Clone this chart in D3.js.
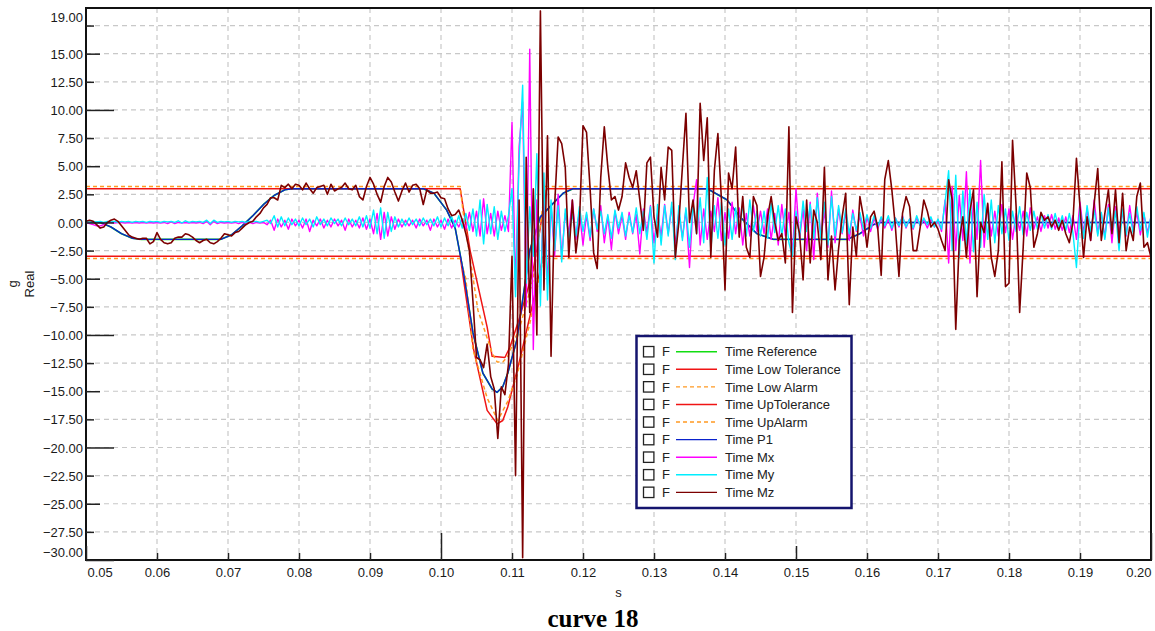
<!DOCTYPE html>
<html><head><meta charset="utf-8">
<script src="https://cdn.jsdelivr.net/npm/d3@7"></script>
<style>body{margin:0;background:#fff}svg{display:block}</style>
</head><body><svg id="c" width="1155" height="631"></svg>
<script>
// ---------- DATA ----------
const xTicks = [0.05,0.06,0.07,0.08,0.09,0.10,0.11,0.12,0.13,0.14,0.15,0.16,0.17,0.18,0.19,0.20];
const yTicks = [-30,-27.5,-25,-22.5,-20,-17.5,-15,-12.5,-10,-7.5,-5,-2.5,0,2.5,5,7.5,10,12.5,15,17.5];
const yTopLabel = "19.00";
const xLabel = "s";
const yLabelLines = ["g","Real"];
const title = "curve 18";
const seriesNames = ["Time Reference","Time Low Tolerance","Time Low Alarm","Time UpTolerance","Time UpAlarm","Time P1","Time Mx","Time My","Time Mz"];

// reference / P1 curve (time s, value g)
const refT = [0.05,0.0520,0.0535,0.0550,0.0565,0.0578,0.0690,0.0705,0.0720,0.0735,0.0750,0.0765,0.0780,0.0790,0.0975,0.0990,0.1008,0.1020,0.1031,0.1045,0.1059,0.1072,0.1079,0.1087,0.1094,0.1107,0.1125,0.1140,0.1158,0.1172,0.1186,0.1375,0.1403,0.1421,0.1445,0.1468,0.1572,0.1590,0.1609,0.1618,0.2];
const refV = [0,0,-0.4,-1.0,-1.4,-1.5,-1.5,-1.1,-0.3,0.6,1.6,2.4,2.9,3.0,3.0,2.6,1.1,-0.5,-4.2,-9.8,-13.4,-14.8,-15.1,-14.6,-13.4,-10.4,-2.5,0.5,1.7,2.6,3.0,3.0,2.0,0.5,-1.0,-1.5,-1.5,-1.0,-0.2,0,0];

const upTolT = [0.05,0.1027,0.1041,0.1065,0.1072,0.1090,0.1097,0.1111,0.1130,0.1149,0.2];
const upTolV = [3,3,-2.5,-9.3,-11.9,-12.0,-11.1,-8.4,-4.2,3,3];
const lowTolT = [0.05,0.1027,0.1046,0.1065,0.1079,0.1087,0.1094,0.1111,0.1125,0.1144,0.2];
const lowTolV = [-3,-3,-11.3,-16.7,-17.9,-17.6,-16.4,-12.2,-8.4,-3,-3];
const upAlarmT = [0.05,0.1027,0.1031,0.1052,0.1072,0.1079,0.1087,0.1094,0.1111,0.1130,0.1147,0.2];
const upAlarmV = [3.2,3.2,1.0,-7.8,-11.6,-12.4,-12.4,-11.9,-9.3,-5.0,3.2,3.2];
const lowAlarmT = [0.05,0.1027,0.1035,0.1045,0.1065,0.1080,0.1094,0.1107,0.1125,0.1144,0.2];
const lowAlarmV = [-3.2,-3.2,-5.0,-11.3,-15.6,-17.6,-15.9,-13.6,-9.0,-3.2,-3.2];

// measured channels, sampled every 0.5 ms from 0.05 s
const sampleStart = 0.05, sampleStep = 0.0005;
const mzV = [
0.1,0.2,0.1,-0.2,-0.5,-0.4,0.0,0.2,0.3,0.1,
-0.3,-0.7,-1.1,-1.3,-1.4,-1.5,-1.4,-1.4,-1.9,-1.7,
-0.9,-1.5,-1.8,-1.9,-1.8,-1.4,-1.3,-1.3,-1.0,-1.1,
-1.3,-1.6,-1.8,-1.6,-1.5,-1.8,-1.9,-1.7,-1.4,-1.0,
-1.1,-1.2,-0.9,-0.8,-0.5,-0.2,0.0,0.1,0.5,0.8,
1.3,1.6,2.2,2.2,2.0,3.3,3.1,3.4,3.0,3.4,
3.3,2.9,3.5,3.0,2.6,3.1,3.2,3.3,2.5,3.4,
2.8,3.0,3.1,3.5,3.0,2.9,3.3,2.3,2.0,3.2,
4.0,3.4,2.5,1.8,3.2,4.0,3.6,2.7,1.9,2.8,
3.5,2.7,3.3,3.4,3.0,1.6,2.9,2.6,2.6,2.7,
2.2,2.1,1.2,0.6,0.7,1.1,0.2,-1.0,-2.5,-7.0,
-12.0,-12.2,-12.9,-10.8,-13.7,-14.8,-19.2,-14.6,-15.3,-12.6,
-3.0,-22.5,2.0,-29.8,5.8,-8.0,3.0,-10.0,18.8,-6.0,
7.7,-11.9,1.5,7.6,7.0,4.9,-3.1,2.0,-2.7,0.0,
8.6,8.0,3.0,-2.7,-4.1,4.0,8.5,4.9,2.0,2.3,
1.1,2.3,5.3,4.0,3.1,4.6,2.0,-0.7,5.3,5.8,
0.5,-1.3,4.9,2.0,6.7,6.4,-3.1,0.0,4.9,9.7,
0.0,2.0,-1.0,10.6,5.5,9.3,-3.1,4.6,7.9,2.0,
-6.0,4.4,3.0,6.7,-1.3,2.3,-2.2,-3.1,2.3,1.5,
-4.8,-3.1,0.5,2.3,0.0,-1.6,-1.0,-3.6,8.5,-8.0,
0.5,-1.0,-5.1,2.0,-3.6,1.1,0.0,-3.3,4.9,-5.1,
-1.2,-6.0,-2.3,0.5,2.6,-7.3,-0.4,-3.0,2.3,0.5,
-2.2,0.5,1.0,-0.4,-4.7,3.8,5.5,2.9,-0.4,-4.8,
0.8,2.3,1.4,-2.5,-2.5,-0.4,2.0,1.0,-0.4,0.0,
-0.6,-1.6,-2.5,3.8,2.0,-9.5,-1.6,0.5,-3.1,1.0,
2.9,-6.6,0.0,-0.9,1.7,-3.1,-4.8,-2.5,5.4,-5.7,
-5.4,7.3,1.4,-8.0,-2.2,4.4,3.1,-2.2,-1.0,0.9,
0.2,0.5,-0.4,0.2,-0.7,0.2,-1.0,-1.8,0.0,5.7,
1.4,-3.1,0.5,-1.6,1.7,4.8,-1.6,0.8,2.9,-1.0,
2.9,-1.8,2.6,-2.5,-0.4,-1.6,2.3,3.5,-2.2,-1.8,
-3.1];
const myV = [
0.1,0.0,0.1,0.05,0.1,0.0,0.1,0.05,0.1,0.0,
0.1,0.05,0.1,0.0,0.1,0.05,0.1,0.0,0.1,0.05,
0.1,0.0,0.1,0.05,0.1,0.0,0.15,-0.05,0.15,0.0,
0.1,0.05,0.1,0.0,0.2,-0.1,0.2,0.0,0.1,0.05,
0.1,0.0,0.1,0.05,0.1,0.0,0.1,0.05,0.1,0.0,
0.1,0.2,-0.1,0.6,-0.4,0.5,-0.3,0.4,-0.2,0.3,
-0.3,0.4,-0.2,0.3,-0.4,0.5,-0.2,0.3,-0.3,0.4,
-0.1,0.3,-0.3,0.4,-0.2,0.3,-0.3,0.5,-0.4,0.6,
-0.5,1.1,-1.0,1.3,-1.4,0.9,-0.8,0.5,-0.4,0.3,
-0.3,0.4,-0.2,0.3,-0.3,0.4,-0.2,0.3,-0.3,0.5,
-0.4,0.4,-0.3,0.5,-0.4,0.6,-0.5,0.8,-0.7,1.2,
-1.2,2.0,-1.9,1.6,-1.0,1.4,-1.5,1.0,-0.8,0.6,
3.0,-6.6,5.5,12.2,-5.4,1.4,-3.0,6.1,-7.4,4.4,
-6.9,2.0,-2.5,1.5,-3.5,1.2,-1.5,0.8,-1.2,1.4,
-0.8,0.9,-1.3,1.2,-0.6,1.0,-1.0,0.7,-1.4,1.1,
-0.5,0.9,-1.2,0.6,-0.9,1.3,-1.0,1.0,-1.5,1.4,
-3.6,1.6,-2.0,1.5,-1.2,1.8,-3.3,1.5,-1.6,1.3,
-2.2,1.6,-1.0,2.2,-1.8,4.0,-2.5,1.5,-1.4,1.8,
-2.0,1.2,-1.5,1.3,-1.0,1.6,-1.2,2.0,-0.8,1.0,
-1.2,1.0,-1.4,1.7,-0.9,1.5,-1.2,1.2,-1.8,-3.0,
1.0,-1.3,1.9,-0.8,1.6,-1.4,2.2,-1.5,1.8,-2.0,
2.3,-1.2,1.5,-0.9,1.2,-1.0,0.8,-0.7,0.9,-0.6,
0.7,-0.5,0.6,-0.4,0.5,-0.3,0.6,-0.5,0.4,-0.3,
0.5,-0.4,0.3,-0.5,0.6,-0.3,0.4,-0.2,0.5,-0.4,
0.3,-0.6,1.8,4.6,-2.5,4.2,-3.1,2.8,-2.0,3.0,
-2.6,1.8,-2.2,2.5,-1.5,2.0,-1.8,1.5,-1.0,1.2,
-1.6,1.0,-0.8,1.4,-1.1,0.9,-0.7,1.0,-0.6,0.8,
-0.5,0.7,-0.6,0.8,-0.5,0.6,-0.7,0.8,-0.9,-4.0,
1.2,-1.4,1.5,-0.8,1.1,-1.2,0.9,-1.5,1.3,-0.9,
1.0,-2.5,1.2,-1.1,0.8,-1.0,1.4,-0.7,0.9,-1.3,
0.6];
const mxV = [
0.0,-0.1,-0.2,-0.3,-0.3,-0.2,0.0,0.0,-0.05,0.0,
0.0,-0.05,0.0,-0.05,0.0,-0.05,0.0,-0.05,0.0,-0.05,
0.0,-0.05,0.0,-0.1,0.05,-0.1,0.0,-0.05,0.0,-0.05,
0.0,-0.05,0.0,-0.1,0.1,-0.2,0.1,-0.1,0.0,-0.05,
0.0,-0.05,0.0,-0.1,0.0,-0.05,0.0,-0.1,0.0,-0.05,
0.0,-0.2,0.2,-0.7,0.3,-0.4,0.2,-0.6,0.3,-0.3,
0.2,-0.5,0.3,-0.8,0.2,-0.3,0.3,-0.5,0.2,-0.4,
0.3,-0.3,0.2,-0.7,0.3,-0.4,0.2,-0.5,0.4,-0.6,
0.3,-1.0,0.8,-1.5,0.9,-1.2,0.5,-0.6,0.3,-0.4,
0.2,-0.3,0.2,-0.5,0.3,-0.3,0.2,-0.7,0.3,-0.4,
0.2,-0.6,0.3,-0.5,0.2,-0.4,0.3,-0.6,0.9,-0.8,
1.0,-1.2,2.1,-1.0,0.8,-1.2,1.0,-0.7,0.6,-0.8,
8.9,-6.0,6.7,10.7,-7.5,15.4,-11.3,2.0,-6.3,3.1,
-5.5,1.5,-3.0,2.5,-3.1,0.8,-1.0,2.0,-1.5,1.0,
-2.0,0.7,-1.6,1.2,-0.8,1.5,-1.8,0.5,-2.4,1.0,
-1.0,0.6,-1.5,0.9,-1.0,0.7,-2.8,1.2,-0.9,1.5,
-1.8,0.8,-1.2,1.6,-1.0,1.4,-2.0,0.9,-1.3,1.1,
-4.0,1.5,3.8,-2.0,1.2,-1.5,1.0,-0.8,2.2,-1.6,
0.9,-1.4,1.8,-1.0,1.3,-2.0,0.8,-1.2,1.5,-0.8,
1.0,-1.0,1.2,-1.5,0.8,-2.0,1.6,-1.2,0.9,-2.8,
3.0,-1.5,1.2,-2.5,1.8,-3.3,2.6,-1.4,1.0,-2.2,
2.8,-1.8,1.2,-1.0,0.9,-1.6,1.1,-0.8,0.6,-1.2,
0.5,-0.8,0.4,-0.6,0.4,-0.5,0.3,-0.7,0.4,-0.4,
0.6,-0.5,0.3,-0.6,0.4,-0.3,0.2,-0.5,0.3,-0.4,
0.2,-0.8,2.0,-3.6,3.2,-2.5,2.4,-1.6,4.5,-3.6,
2.0,-1.5,5.5,-2.2,1.6,-1.2,1.0,-1.2,1.6,-0.9,
1.2,-1.5,0.8,-0.7,1.0,-1.2,1.3,-0.6,0.5,-0.8,
0.6,-0.5,0.7,-0.6,0.4,-0.7,0.5,-0.9,0.6,-1.5,
1.8,-0.9,1.2,-1.6,2.0,-1.0,0.8,-1.3,1.6,-1.8,
1.4,-0.9,1.0,-1.2,1.5,-0.8,0.9,-1.1,0.7,-0.9,
0.5];

// ---------- CHART ----------
const FONT = "'Liberation Sans', Arial, Helvetica, sans-serif";
const box = {l:86, r:1151, t:8, b:560};
const svg = d3.select("#c");
const x = d3.scaleLinear().domain([0.05, 0.2]).range([box.l, box.r]);
const y = d3.scaleLinear().domain([-30, 19.06]).range([box.b, box.t]);

// grid
const g = svg.append("g");
g.selectAll("line.gy").data(yTicks.filter(v => v > -30)).join("line")
  .attr("x1", box.l).attr("x2", box.r).attr("y1", d => y(d)).attr("y2", d => y(d))
  .attr("stroke", "#c8c8c8").attr("stroke-width", 1.2).attr("stroke-dasharray", "5,4");
g.selectAll("line.gx").data(xTicks.filter(v => v > 0.05 && v < 0.2)).join("line")
  .attr("x1", d => x(d)).attr("x2", d => x(d)).attr("y1", box.t).attr("y2", box.b)
  .attr("stroke", "#c8c8c8").attr("stroke-width", 1.2).attr("stroke-dasharray", "5,4");

// clip
svg.append("clipPath").attr("id", "clip").append("rect")
  .attr("x", box.l).attr("y", box.t).attr("width", box.r - box.l).attr("height", box.b - box.t);
const plot = svg.append("g").attr("clip-path", "url(#clip)");

const line = d3.line().x(d => x(d[0])).y(d => y(d[1]));
const pairs = (T, V) => T.map((t, i) => [t, V[i]]);
const sampled = V => V.map((v, i) => [sampleStart + i * sampleStep, v]);

const series = [
  {name: seriesNames[0], data: pairs(refT, refV), color: "#11dd11", w: 1.6},
  {name: seriesNames[1], data: pairs(lowTolT, lowTolV), color: "#f01414", w: 1.5},
  {name: seriesNames[2], data: pairs(lowAlarmT, lowAlarmV), color: "#ff9922", w: 1.5, dash: "4,3"},
  {name: seriesNames[3], data: pairs(upTolT, upTolV), color: "#f01414", w: 1.5},
  {name: seriesNames[4], data: pairs(upAlarmT, upAlarmV), color: "#ff9922", w: 1.5, dash: "4,3"},
  {name: seriesNames[5], data: pairs(refT, refV), color: "#0a22cc", w: 1.4},
  {name: seriesNames[6], data: sampled(mxV), color: "#ff00ff", w: 1.4},
  {name: seriesNames[7], data: sampled(myV), color: "#00eeff", w: 1.4},
  {name: seriesNames[8], data: sampled(mzV), color: "#7c0000", w: 1.6},
];
series.forEach(s => {
  plot.append("path").datum(s.data).attr("d", line)
    .attr("fill", "none").attr("stroke", s.color).attr("stroke-width", s.w)
    .attr("stroke-linejoin", "round")
    .attr("stroke-dasharray", s.dash || null);
});

// frame
svg.append("rect").attr("x", box.l).attr("y", box.t).attr("width", box.r - box.l).attr("height", box.b - box.t)
  .attr("fill", "none").attr("stroke", "#111").attr("stroke-width", 2);

// y axis
const yAxis = d3.axisLeft(y).tickValues(yTicks.concat([19.06])).tickSize(-7).tickPadding(3)
  .tickFormat(d => d === 17.5 ? "" : (d > 19 ? yTopLabel : d3.format(".2f")(d)));
const ya = svg.append("g").attr("transform", `translate(${box.l},0)`).call(yAxis);
ya.select(".domain").remove();
ya.selectAll(".tick line")
  .attr("x2", d => d > 19 ? 0 : (d % 10 === 0 ? 28 : (d % 5 === 0 ? 14 : 8)))
  .attr("stroke", "#222").attr("stroke-width", 1.5);
ya.selectAll(".tick text").attr("font-family", FONT).attr("font-size", 13).attr("fill", "#1a1a1a")
  .attr("dy", d => d > 19 ? "1.0em" : (d === -30 ? "-0.3em" : "0.35em"));

// x axis
const xAxis = d3.axisBottom(x).tickValues(xTicks).tickSize(-7).tickPadding(8).tickFormat(d3.format(".2f"));
const xa = svg.append("g").attr("transform", `translate(0,${box.b})`).call(xAxis);
xa.select(".domain").remove();
xa.selectAll(".tick line")
  .attr("y2", d => { const k = Math.round(d * 100); return k % 10 === 0 ? -27 : (k % 5 === 0 ? -14 : -7); })
  .attr("stroke", "#222").attr("stroke-width", 1.5);
xa.selectAll(".tick text").attr("font-family", FONT).attr("font-size", 13).attr("fill", "#1a1a1a")
  .attr("text-anchor", d => d <= 0.05 ? "start" : (d >= 0.2 ? "end" : "middle"))
  .attr("dx", d => d <= 0.05 ? 1 : 0);

// axis titles
svg.append("text").attr("x", (box.l + box.r) / 2).attr("y", 597).attr("text-anchor", "middle")
  .attr("font-family", FONT).attr("font-size", 13).attr("fill", "#1a1a1a").text(xLabel);
const yl = svg.append("text").attr("transform", `translate(0,284) rotate(-90)`)
  .attr("text-anchor", "middle").attr("font-family", FONT).attr("font-size", 13).attr("fill", "#1a1a1a");
yl.selectAll("tspan").data(yLabelLines).join("tspan")
  .attr("x", 0).attr("y", (d, i) => 17 + i * 17).text(d => d);

svg.append("text").attr("x", 593).attr("y", 627).attr("text-anchor", "middle")
  .attr("font-family", "'Liberation Serif', 'Times New Roman', serif").attr("font-weight", "bold")
  .attr("font-size", 25).attr("fill", "#000").text(title);

// legend
const lg = svg.append("g");
lg.append("rect").attr("x", 636.5).attr("y", 336).attr("width", 215).attr("height", 172)
  .attr("fill", "#fff").attr("stroke", "#14146e").attr("stroke-width", 2.5);
const rows = lg.selectAll("g.row").data(series).join("g")
  .attr("transform", (d, i) => `translate(0,${351.7 + i * 17.58})`);
rows.append("rect").attr("x", 643.5).attr("y", -5.2).attr("width", 10.4).attr("height", 10.4)
  .attr("fill", "#fff").attr("stroke", "#222").attr("stroke-width", 1.3);
rows.append("text").attr("x", 662).attr("dy", "0.36em").attr("font-family", FONT).attr("font-size", 13)
  .attr("fill", "#222").text("F");
rows.append("line").attr("x1", 676).attr("x2", 717).attr("y1", 0).attr("y2", 0)
  .attr("stroke", d => d.color).attr("stroke-width", 1.4).attr("stroke-dasharray", d => d.dash || null);
rows.append("text").attr("x", 725).attr("dy", "0.36em").attr("font-family", FONT).attr("font-size", 13)
  .attr("fill", "#222").text(d => d.name);
</script></body></html>
